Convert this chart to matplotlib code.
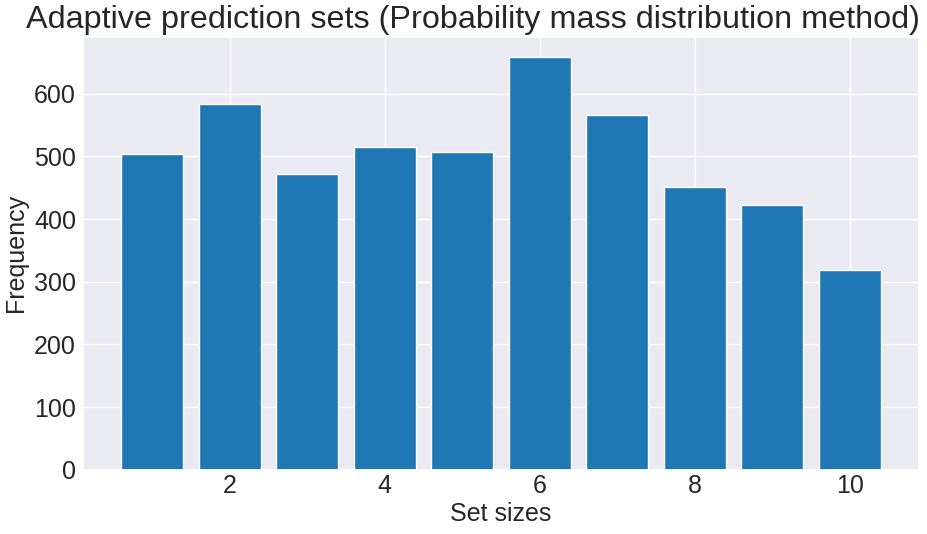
import numpy as np
import matplotlib
matplotlib.use('Agg')
import matplotlib.pyplot as plt
import seaborn as sns

# set sizes and their counts
set_sizes = [1, 2, 3, 4, 5, 6, 7, 8, 9, 10]
counts = [504, 584, 472, 514, 507, 658, 566, 451, 422, 318]

sns.set_theme(style='darkgrid')
plt.rcParams['font.family'] = ['Liberation Sans', 'DejaVu Sans']

fig, ax = plt.subplots(figsize=(9.27, 5.34), dpi=100)
fig.subplots_adjust(left=0.0895, right=0.9914, bottom=0.12, top=0.9316)

ax.bar(set_sizes, counts, color='#1f77b4')
# title sits a bit left of the axes centre, as in the original
ax.set_title('Adaptive prediction sets (Probability mass distribution method)',
             fontsize=23.3, x=0.467)
ax.set_xlabel('Set sizes', fontsize=18, labelpad=3)
ax.set_ylabel('Frequency', fontsize=18, labelpad=4)
ax.tick_params(labelsize=18, length=0)
ax.tick_params(axis='x', pad=3)
ax.tick_params(axis='y', pad=5)

fig.savefig('out.png')
